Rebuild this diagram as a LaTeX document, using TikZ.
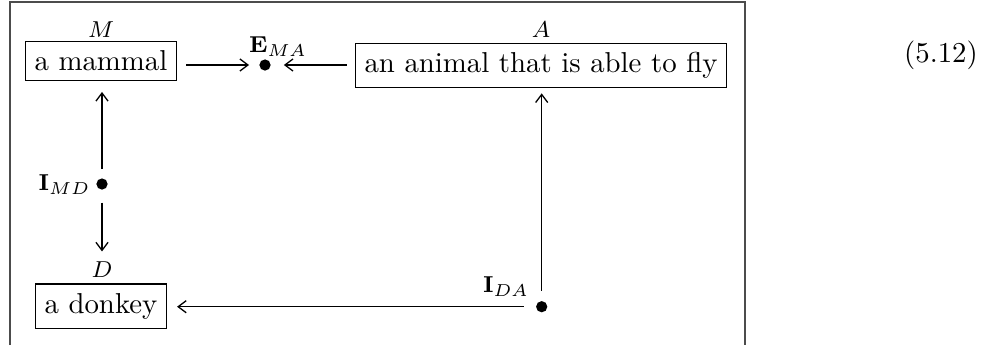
\documentclass[tikz,border=0pt]{standalone}
\usetikzlibrary{arrows.meta}
\begin{document}
\begin{tikzpicture}[x=0.3472pt,y=-0.3472pt,
  box/.style={draw,line width=0.45pt,inner sep=3.2pt,font=\normalsize},
  lbl/.style={inner sep=0pt,font=\footnotesize},
  dotn/.style={circle,fill=black,inner sep=0pt,minimum size=3.9pt},
  arr/.style={line width=0.45pt,-{Straight Barb[length=2.8pt,width=4.2pt]}},
  frame/.style={draw=black!70,line width=0.5pt}]
\useasboundingbox (0,0) rectangle (985,345);
\draw[frame] (10,345) -- (10,2) -- (745,2) -- (745,345);
% boxes
\node[box] (M) at (101,61) {a mammal};
\node[box] (A) at (541,65.5) {an animal that is able to fly};
\node[box] (D) at (101,306) {a donkey};
% labels of boxes
\node[lbl] (Ml) at (101,30) {$M$};
\node[lbl] (Al) at (541,30) {$A$};
\node[lbl] (Dl) at (102,270) {$D$};
% dots
\node[dotn] (E) at (265,65) {};
\node[dotn] (IMD) at (102,184) {};
\node[dotn] (IDA) at (541.7,306.7) {};
% dot labels
\node[lbl] (El) at (278,47) {$\mathbf{E}_{MA}$};
\node[lbl,anchor=east] (IMDl) at (91,185) {$\mathbf{I}_{MD}$};
\node[lbl] (IDAl) at (506,287) {$\mathbf{I}_{DA}$};
% equation number
\node (eq) at (941,55) {(5.12)};
% arrows
\draw[arr,shorten <=3.1pt,shorten >=3.4pt] (M.east |- E.center) -- (E);
\draw[arr,shorten <=2.8pt,shorten >=4.4pt] (A.west |- E.center) -- (E);
\draw[arr,shorten <=3pt,shorten >=3.8pt] (IMD) -- (IMD |- M.south);
\draw[arr,shorten <=4.3pt,shorten >=3.5pt] (IMD) -- (IMD |- Dl.north);
\draw[arr,shorten <=4pt,shorten >=3.4pt] (IDA) -- (D.east |- IDA.center);
\draw[arr,shorten <=3.4pt,shorten >=1.7pt] (IDA) -- (IDA |- A.south);
\end{tikzpicture}
\end{document}
